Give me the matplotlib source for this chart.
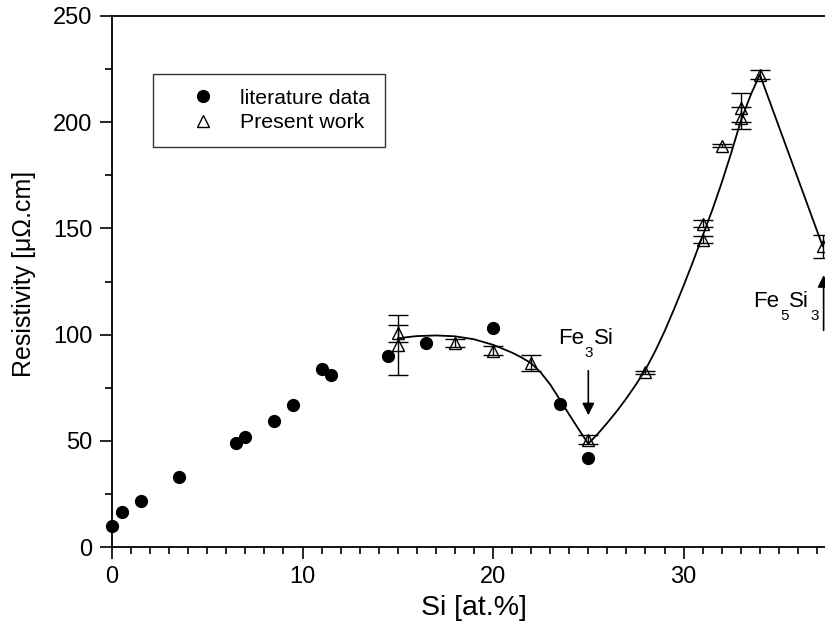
import matplotlib

matplotlib.use("Agg")
import matplotlib.pyplot as plt
from matplotlib.lines import Line2D
from matplotlib.ticker import MultipleLocator

plt.rcParams["font.family"] = ["Liberation Sans", "DejaVu Sans"]

# literature resistivity values
lit_si = [0.0, 0.5, 1.5, 3.5, 6.5, 7.0, 8.5, 9.5, 11.0, 11.5, 14.5, 16.5, 20.0, 23.5, 25.0]
lit_rho = [10.0, 16.3, 21.5, 33.1, 48.8, 51.6, 59.2, 66.7, 83.8, 80.8, 90.1, 95.9, 103.0, 67.3, 42.0]

# present measurements with uncertainties
meas_si = [15, 15, 18, 20, 22, 25, 28, 31, 31, 32, 33, 33, 34, 37.3]
meas_rho = [100.6, 95.2, 96.0, 92.3, 86.6, 50.6, 82.2, 152.2, 144.6, 189.0, 206.9, 202.1, 222.4, 141.6]
meas_err = [3.9, 14.0, 1.7, 2.1, 3.6, 2.0, 0.7, 1.6, 1.7, 0.6, 6.7, 5.2, 2.0, 5.5]

# guide-to-the-eye curve
fit_si = [15, 15.5, 16, 17, 18, 19, 20, 21, 21.5, 22, 22.5, 23, 23.5, 24, 24.5, 25,
          25.5, 26, 26.5, 27, 27.5, 28, 28.5, 29, 29.5, 30, 30.5, 31, 31.5, 32, 32.5,
          33, 33.5, 34, 37.3]
fit_rho = [98.2, 98.8, 99.3, 99.6, 99.2, 97.8, 95.2, 91.5, 89.2, 86.5, 82.2, 76.5, 69.5,
           62.3, 55.3, 48.6, 53.3, 58.5, 64.0, 70.0, 76.5, 83.5, 92.0, 101.5, 112.0,
           123.0, 134.5, 146.5, 158.5, 171.5, 185.5, 200.5, 212.3, 222.5, 141.6]


def chem_label(ax, x, y, parts, size=16, sub_size=11):
    """Write a formula as alternating normal/subscript pieces starting at (x, y)."""
    prev = ax.text(x, y, parts[0], fontsize=size, ha="left", va="baseline")
    base = prev
    for i, piece in enumerate(parts[1:], start=1):
        if i % 2:
            prev = ax.annotate(piece, xy=(1, 0), xycoords=(prev, base),
                               xytext=(0.6, -8.3), textcoords="offset points",
                               fontsize=sub_size, ha="left", va="bottom")
        else:
            prev = ax.annotate(piece, xy=(1, 0), xycoords=(prev, base),
                               xytext=(0.6, 0), textcoords="offset points",
                               fontsize=size, ha="left", va="bottom")
    return base


fig = plt.figure(figsize=(8.25, 6.36), dpi=100)
ax = fig.add_axes([112 / 825, 89 / 636, 724 / 825, 531 / 636])

ax.plot(fit_si, fit_rho, color="black", lw=1.3, zorder=2)
ax.errorbar(meas_si, meas_rho, yerr=meas_err, fmt="none", ecolor="black",
            elinewidth=1.0, capsize=7, capthick=1.0, zorder=3)
ax.plot(meas_si, meas_rho, ls="none", marker="^", ms=8.5, mfc="none", mec="black",
        mew=1.0, zorder=4)
ax.plot(lit_si, lit_rho, ls="none", marker="o", ms=8.5, color="black", zorder=5,
        clip_on=False)

ax.set_xlim(0, 38)
ax.set_ylim(0, 250)
ax.xaxis.set_major_locator(MultipleLocator(10))
ax.xaxis.set_minor_locator(MultipleLocator(1))
ax.yaxis.set_major_locator(MultipleLocator(50))
ax.yaxis.set_minor_locator(MultipleLocator(25))
ax.tick_params(which="both", direction="out", width=1.2, labelsize=17)
ax.tick_params(which="major", length=8.5, pad=5.5)
ax.tick_params(which="minor", length=5)
for side in ax.spines.values():
    side.set_linewidth(1.3)

ax.set_xlabel("Si [at.%]", fontsize=20.5, labelpad=5)
ax.set_ylabel("Resistivity [μΩ.cm]", fontsize=18)
ax.yaxis.set_label_coords(-0.105, 0.515)

ax.annotate("", xy=(25, 62.0), xytext=(25, 83.0),
            arrowprops=dict(arrowstyle="-|>", color="black", lw=1.2,
                            mutation_scale=18, shrinkA=0, shrinkB=0))
chem_label(ax, 23.4, 95.6, ["Fe", "3", "Si"])

ax.annotate("", xy=(37.35, 128.0), xytext=(37.35, 102.0),
            arrowprops=dict(arrowstyle="-|>", color="black", lw=1.2,
                            mutation_scale=18, shrinkA=0, shrinkB=0))
chem_label(ax, 33.65, 113.1, ["Fe", "5", "Si", "3"])

handles = [
    Line2D([], [], ls="none", marker="o", ms=8.5, color="black"),
    Line2D([], [], ls="none", marker="^", ms=8.5, mfc="none", mec="black", mew=1.0),
]
leg = ax.legend(handles, ["literature data", "Present work"], loc="upper left",
                bbox_to_anchor=(0.0566, 0.8908), borderaxespad=0, fontsize=15.3,
                frameon=True, fancybox=False, handlelength=3.3, handletextpad=0.1,
                borderpad=0.7, labelspacing=0.25)
leg.get_frame().set_edgecolor("black")
leg.get_frame().set_linewidth(1.0)

fig.savefig("out.png", dpi=100)
